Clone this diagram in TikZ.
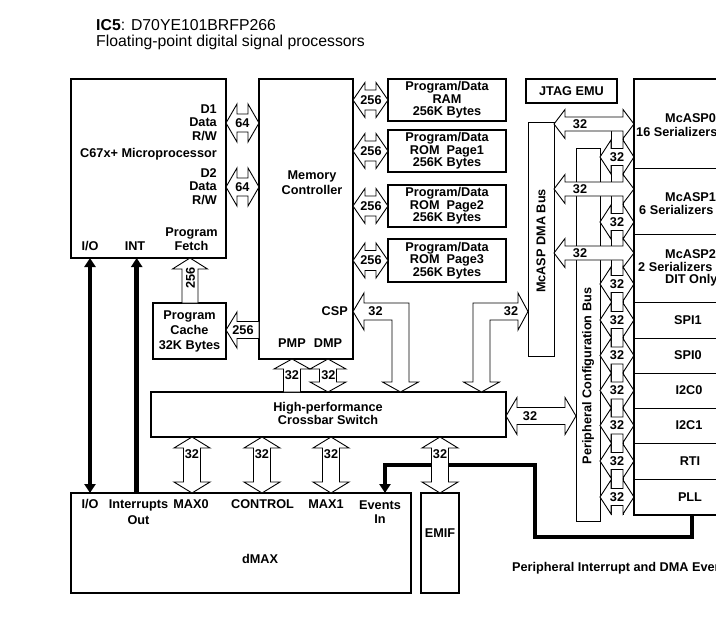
\documentclass[tikz,border=0pt]{standalone}
\usepackage{fontspec}
\setmainfont{Liberation Sans}
\usetikzlibrary{arrows.meta}
% double-headed horizontal hollow arrow: xl, xr, yc, shaft half, head half, head length
\newcommand\dblH[6]{\draw[harr] (#1,#3) -- ({#1+#6},{#3-#5}) -- ({#1+#6},{#3-#4}) -- ({#2-#6},{#3-#4}) -- ({#2-#6},{#3-#5}) -- (#2,#3) -- ({#2-#6},{#3+#5}) -- ({#2-#6},{#3+#4}) -- ({#1+#6},{#3+#4}) -- ({#1+#6},{#3+#5}) -- cycle;}
% double-headed vertical hollow arrow: yt, yb, xc, shaft half, head half, head length
\newcommand\dblV[6]{\draw[harr] (#3,#1) -- ({#3+#5},{#1+#6}) -- ({#3+#4},{#1+#6}) -- ({#3+#4},{#2-#6}) -- ({#3+#5},{#2-#6}) -- (#3,#2) -- ({#3-#5},{#2-#6}) -- ({#3-#4},{#2-#6}) -- ({#3-#4},{#1+#6}) -- ({#3-#5},{#1+#6}) -- cycle;}
% single-headed up arrow: ytip, ybottom, xc, shaft half, head half, head length
\newcommand\upV[6]{\draw[harr] (#3,#1) -- ({#3+#5},{#1+#6}) -- ({#3+#4},{#1+#6}) -- ({#3+#4},#2) -- ({#3-#4},#2) -- ({#3-#4},{#1+#6}) -- ({#3-#5},{#1+#6}) -- cycle;}
% single-headed left arrow: xtip, xend, yc, shaft half, head half, head length
\newcommand\leftH[6]{\draw[harr] (#1,#3) -- ({#1+#6},{#3-#5}) -- ({#1+#6},{#3-#4}) -- (#2,{#3-#4}) -- (#2,{#3+#4}) -- ({#1+#6},{#3+#4}) -- ({#1+#6},{#3+#5}) -- cycle;}
\begin{document}
\begin{tikzpicture}[x=1pt,y=-1pt,
  box/.style={draw,line width=2pt,fill=white,inner sep=0pt,outer sep=0pt,anchor=north west},
  bus/.style={draw,line width=0.9pt,fill=white,inner sep=0pt,outer sep=0pt,anchor=north west},
  harr/.style={draw,line width=0.9pt,fill=white,line join=miter},
  lbl/.style={inner sep=0pt,font=\fontsize{12.7}{#1}\selectfont\bfseries,align=center},
  lbl/.default=13.5,
  sig/.style={line width=4.5pt},
  tip/.tip={Triangle[width=11pt,length=9pt]}
]
\useasboundingbox (0,0) rectangle (716,624);

% title
\node[anchor=base west,inner sep=0pt,font=\fontsize{15.8}{16}\selectfont] (t1) at (96,30) {\textbf{IC5}: D70YE101BRFP266};
\node[anchor=base west,inner sep=0pt,font=\fontsize{15.8}{16}\selectfont] (t2) at (96,46) {Floating-point digital signal processors};

% boxes
\node[box,minimum width=155pt,minimum height=179pt] (cpu) at (71,79) {};
\node[box,minimum width=94pt,minimum height=280pt] (mc) at (259,79) {};
\node[box,minimum width=118pt,minimum height=42pt] (ram) at (388,79) {};
\node[box,minimum width=118pt,minimum height=42pt] (rom1) at (388,130) {};
\node[box,minimum width=118pt,minimum height=42pt] (rom2) at (388,185) {};
\node[box,minimum width=118pt,minimum height=43pt] (rom3) at (388,239) {};
\node[box,minimum width=91pt,minimum height=24pt] (jtag) at (526,79) {};
\node[box,minimum width=73pt,minimum height=56pt] (cache) at (153,303) {};
\node[box,minimum width=355pt,minimum height=45pt] (xbar) at (151,392) {};
\node[box,minimum width=340pt,minimum height=100pt] (dmax) at (71,493) {};
\node[box,minimum width=38pt,minimum height=100pt] (emif) at (421,493) {};
\node[bus,minimum width=26pt,minimum height=234pt] (dmabus) at (528,122) {};
\node[bus,minimum width=24pt,minimum height=373pt] (pcb) at (576,148) {};

% thick signal lines
\node[lbl] (cio) at (90,246) {I/O};
\node[lbl] (cint) at (135,246) {INT};
\node[lbl] (dio) at (90,504) {I/O};
\node[lbl=16.5] (dint) at (138.5,512) {Interrupts\\Out};
\node[lbl] (evin) at (380,512) {Events\\In};
\draw[sig,tip-tip] (cio |- cpu.south) -- (cio |- dmax.north);
\draw[sig,tip-] (136.7,258) -- (136.7,493);
\coordinate (ev0) at (692,515);
\coordinate (ev1) at (692,537);
\coordinate (ev2) at (535,537);
\coordinate (ev3) at (535,465);
\coordinate (ev4) at (385,465);
\draw[sig,-tip] (ev0) -- (ev1) -- (ev2) -- (ev3) -- (ev4) -- (ev4 |- dmax.north);

% cpu <-> mc
\dblH{226}{259}{123}{9}{19}{11}
\dblH{226}{259}{187}{9}{19}{11}
\node[lbl] (a64a) at (242.5,123) {64};
\node[lbl] (a64b) at (242.5,187) {64};

% mc <-> memories
\foreach \yy/\nm in {100/m1,151/m2,206/m3,260.5/m4}{
  \dblH{353}{388}{\yy}{10}{17.5}{12}
  \node[lbl] (\nm) at (371,\yy) {256};
}

% program fetch and cache
\upV{258}{303}{190}{8}{17.5}{11}
\node[lbl,rotate=90] (pf) at (190.5,278) {256};
\leftH{226}{259}{330}{8.5}{18}{11}
\node[lbl] (pc) at (243,330) {256};

% PMP / DMP
\upV{359}{392}{292}{8.5}{18}{10}
\dblV{359}{392}{328}{8.5}{18}{10}
\node[lbl] (pmp32) at (292,375.5) {32};
\node[lbl] (dmp32) at (328.5,375.5) {32};

% CSP L-arrow
\draw[harr] (353,311.5) -- (364,293) -- (364,303) -- (409,303) -- (409,382) -- (418.5,382) -- (400.5,392) -- (382.5,382) -- (392,382) -- (392,320) -- (364,320) -- (364,330) -- cycle;
\node[lbl] (csp32) at (375.5,311.5) {32};
% DMA bus L-arrow
\draw[harr] (528,311.5) -- (518,293) -- (518,303) -- (473,303) -- (473,382) -- (463.5,382) -- (481.5,392) -- (499.5,382) -- (490,382) -- (490,320) -- (518,320) -- (518,330) -- cycle;
\node[lbl] (dma32) at (511,311.5) {32};

% crossbar <-> PCB
\dblH{506}{576}{416}{8.5}{18.5}{11}
\node[lbl] (pcb32) at (530,416) {32};

% crossbar <-> dMAX / EMIF
\foreach \xx/\nm in {192/x1,262/x2,331/x3,440/x4}{
  \dblV{437}{493}{\xx}{8.5}{18}{11}
  \node[lbl] (\nm) at (\xx,454.5) {32};
}

% peripheral ladder
\draw[line width=0.9pt] (611,131) -- (611,515) (623,131) -- (623,515);
\foreach \yy/\nm in {124/l1,189/l2,253/l3}{
  \dblH{554}{634}{\yy}{7}{14.5}{11}
  \node[lbl] (\nm) at (580,\yy) {32};
}
\foreach \yy [count=\i] in {157,222,284,320,355.5,390.5,425.5,461,497}{
  \dblH{600}{634}{\yy}{8.5}{17}{11}
  \node[lbl] (s\i) at (617,\yy) {32};
}

% peripheral block
\node[box,minimum width=150pt,minimum height=436pt] (per) at (634,79) {};
\foreach \yy in {168,234,302,338,373,408,443,479}{
  \draw[line width=0.9pt] (634,\yy) -- (790,\yy);
}

% texts
\node[lbl,anchor=east,align=right] (d1) at (217,122.5) {D1\\Data\\R/W};
\node[lbl,anchor=east] (cpun) at (217,154) {C67x+ Microprocessor};
\node[lbl,anchor=east,align=right] (d2) at (217,186.5) {D2\\Data\\R/W};
\node[lbl=14] (pfe) at (191.5,239) {Program\\Fetch};
\node[lbl=15] (mcn) at (312,182.5) {Memory\\Controller};
\node[lbl,anchor=east] (csp) at (348,311) {CSP};
\node[lbl] (pmp) at (292,343) {PMP};
\node[lbl] (dmp) at (328,343) {DMP};
\node[lbl=12.5] (ramt) at (447,100) {Program/Data\\RAM\\256K Bytes};
\node[lbl=12.5] (rom1t) at (447,151) {Program/Data\\ROM\ \ Page1\\256K Bytes};
\node[lbl=12.5] (rom2t) at (447,206) {Program/Data\\ROM\ \ Page2\\256K Bytes};
\node[lbl=12.5] (rom3t) at (447,260.5) {Program/Data\\ROM\ \ Page3\\256K Bytes};
\node[lbl] (jtagt) at (571.5,91) {JTAG EMU};
\node[lbl=15] (cachet) at (189.5,331) {Program\\Cache\\32K Bytes};
\node[lbl=13] (xbart) at (328,413.5) {High-performance\\Crossbar Switch};
\node[lbl] (max0) at (191,504) {MAX0};
\node[lbl] (ctrl) at (262.5,504) {CONTROL};
\node[lbl] (max1) at (326,504) {MAX1};
\node[lbl] (dmaxt) at (260,559) {dMAX};
\node[lbl] (emift) at (440,533) {EMIF};
\node[lbl,rotate=90] (dmabust) at (541,241) {McASP DMA Bus};
\node[lbl,rotate=90] (pcbt) at (588,376) {Peripheral Configuration Bus};
\node[lbl,anchor=west] (mc0) at (665,118) {McASP0};
\node[lbl,anchor=west] (mc0s) at (636,132) {16 Serializers};
\node[lbl,anchor=west] (mc1) at (665,197) {McASP1};
\node[lbl,anchor=west] (mc1s) at (639,210) {6 Serializers};
\node[lbl,anchor=west] (mc2) at (665,254) {McASP2};
\node[lbl,anchor=west] (mc2s) at (638,267) {2 Serializers};
\node[lbl,anchor=west] (mc2d) at (665,280) {DIT Only};
\node[lbl] (spi1) at (688,320) {SPI1};
\node[lbl] (spi0) at (688,355.5) {SPI0};
\node[lbl] (i2c0) at (689,390.5) {I2C0};
\node[lbl] (i2c1) at (689,425.5) {I2C1};
\node[lbl] (rti) at (690,461) {RTI};
\node[lbl] (pll) at (690,497) {PLL};
\node[lbl,anchor=west] (evt) at (512,568) {Peripheral Interrupt and DMA Events};
\end{tikzpicture}
\end{document}
